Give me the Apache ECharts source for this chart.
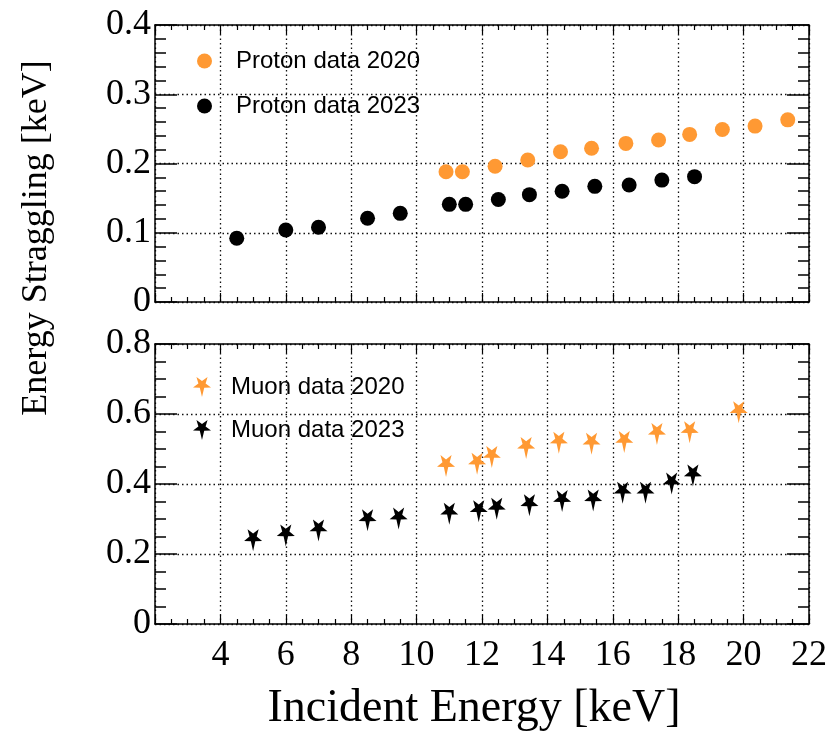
<!DOCTYPE html>
<html>
<head>
<meta charset="utf-8">
<script src="https://cdn.jsdelivr.net/npm/echarts@6/dist/echarts.min.js"></script>
<style>
  html, body { margin: 0; padding: 0; background: #fff; }
  #chart { width: 831px; height: 732px; }
</style>
</head>
<body>
<div id="chart"></div>
<script>
// 数据：横轴为入射能量 (keV)，纵轴为能量歧离 (keV)
var xTicks = [2, 4, 6, 8, 10, 12, 14, 16, 18, 20, 22];
var yTicksTop = [0, 0.1, 0.2, 0.3, 0.4];
var yTicksBottom = [0, 0.2, 0.4, 0.6, 0.8];

var protonE2020 = [10.9, 11.4, 12.4, 13.4, 14.4, 15.35, 16.4, 17.4, 18.35, 19.35, 20.35, 21.35];
var protonS2020 = [0.188, 0.188, 0.196, 0.205, 0.217, 0.222, 0.229, 0.234, 0.242, 0.249, 0.254, 0.263];
var protonE2023 = [4.5, 6.0, 7.0, 8.5, 9.5, 11.0, 11.5, 12.5, 13.45, 14.45, 15.45, 16.5, 17.5, 18.5];
var protonS2023 = [0.092, 0.104, 0.108, 0.121, 0.128, 0.141, 0.141, 0.148, 0.155, 0.160, 0.167, 0.169, 0.176, 0.181];

var muonE2020 = [10.9, 11.85, 12.3, 13.35, 14.35, 15.35, 16.35, 17.35, 18.35, 19.85];
var muonS2020 = [0.458, 0.465, 0.484, 0.510, 0.525, 0.522, 0.527, 0.550, 0.555, 0.612];
var muonE2023 = [5.0, 6.0, 7.0, 8.5, 9.45, 11.0, 11.9, 12.45, 13.45, 14.45, 15.4, 16.3, 17.0, 17.8, 18.45];
var muonS2023 = [0.246, 0.260, 0.274, 0.303, 0.308, 0.322, 0.329, 0.336, 0.346, 0.358, 0.360, 0.382, 0.382, 0.408, 0.431];

(function () {
  var myChart = echarts.init(document.getElementById('chart'));

  var orange = '#ff9933';
  var serif = 'Liberation Serif';
  // 倒置五角星，下方的角拉长
  var star = 'path://M0,13L2.35,3.24L9.51,3.09L3.8,-1.24L5.88,-8.09L0,-4L-5.88,-8.09L-3.8,-1.24L-9.51,3.09L-2.35,3.24Z';

  function pairs(xs, ys) {
    return xs.map(function (x, i) { return [x, ys[i]]; });
  }

  // 横轴：主刻度 + 次刻度，刻度朝内
  function xAxisOf(gridIndex, position, showLabel, showSplit) {
    return {
      type: 'value',
      gridIndex: gridIndex,
      position: position,
      min: xTicks[0],
      max: xTicks[xTicks.length - 1],
      interval: xTicks[1] - xTicks[0],
      axisLine: { show: true, onZero: false, lineStyle: { color: '#000', width: 1.5 } },
      axisTick: { show: true, inside: true, length: 9, lineStyle: { color: '#000', width: 1.2 } },
      minorTick: { show: true, splitNumber: 4, length: 5, lineStyle: { color: '#000', width: 1.2 } },
      axisLabel: {
        show: showLabel,
        showMinLabel: false,
        margin: 14,
        color: '#000',
        fontFamily: serif,
        fontSize: 36
      },
      splitLine: { show: showSplit, lineStyle: { color: '#111', width: 1.3, type: [1.5, 3] } }
    };
  }

  // 纵轴
  function yAxisOf(gridIndex, position, ticks, minorSplit, showLabel, showSplit) {
    return {
      type: 'value',
      gridIndex: gridIndex,
      position: position,
      min: ticks[0],
      max: ticks[ticks.length - 1],
      interval: ticks[1] - ticks[0],
      axisLine: { show: true, onZero: false, lineStyle: { color: '#000', width: 1.5 } },
      axisTick: { show: true, inside: true, length: 22, lineStyle: { color: '#000', width: 1.5 } },
      minorTick: { show: true, splitNumber: minorSplit, length: 11, lineStyle: { color: '#000', width: 1.5 } },
      axisLabel: {
        show: showLabel,
        margin: 4,
        color: '#000',
        fontFamily: serif,
        fontSize: 36,
        formatter: function (v) { return v === 0 ? '0' : v.toFixed(1); }
      },
      splitLine: { show: showSplit, lineStyle: { color: '#111', width: 1.3, type: [1.5, 3] } }
    };
  }

  var xMainBottom = xAxisOf(1, 'bottom', true, true);
  xMainBottom.name = 'Incident Energy [keV]';
  xMainBottom.nameLocation = 'middle';
  xMainBottom.nameGap = 62;
  xMainBottom.nameTextStyle = { fontFamily: serif, fontSize: 46, color: '#000', padding: [0, 16, 0, 0] };

  var option = {
    animation: false,
    backgroundColor: '#fff',
    grid: [
      { left: 155, right: 22, top: 25, height: 277, outerBoundsMode: 'none' },
      { left: 155, right: 22, top: 344, height: 280, outerBoundsMode: 'none' }
    ],
    xAxis: [
      xAxisOf(0, 'bottom', false, true),
      xAxisOf(0, 'top', false, false),
      xMainBottom,
      xAxisOf(1, 'top', false, false)
    ],
    yAxis: [
      yAxisOf(0, 'left', yTicksTop, 5, true, true),
      yAxisOf(0, 'right', yTicksTop, 5, false, false),
      yAxisOf(1, 'left', yTicksBottom, 4, true, true),
      yAxisOf(1, 'right', yTicksBottom, 4, false, false)
    ],
    legend: [
      {
        data: ['Proton data 2020', 'Proton data 2023'],
        orient: 'vertical',
        left: 192,
        top: 44,
        itemGap: 21,
        itemWidth: 15,
        itemHeight: 15,
        textStyle: { fontFamily: 'Liberation Sans', fontSize: 24, color: '#000', padding: [0, 0, 0, 19] }
      },
      {
        data: ['Muon data 2020', 'Muon data 2023'],
        orient: 'vertical',
        left: 188,
        top: 370,
        itemGap: 19,
        itemWidth: 18,
        itemHeight: 22,
        textStyle: { fontFamily: 'Liberation Sans', fontSize: 24, color: '#000', padding: [0, 0, 0, 15] }
      }
    ],
    graphic: [
      {
        type: 'text',
        x: 37,
        y: 238,
        rotation: Math.PI / 2,
        style: {
          text: 'Energy Straggling [keV]',
          fontFamily: serif,
          fontSize: 36,
          fill: '#000',
          align: 'center',
          verticalAlign: 'middle'
        }
      }
    ],
    series: [
      {
        name: 'Proton data 2020',
        type: 'scatter',
        xAxisIndex: 0,
        yAxisIndex: 0,
        symbol: 'circle',
        symbolSize: 15,
        itemStyle: { color: orange, opacity: 1 },
        data: pairs(protonE2020, protonS2020)
      },
      {
        name: 'Proton data 2023',
        type: 'scatter',
        xAxisIndex: 0,
        yAxisIndex: 0,
        symbol: 'circle',
        symbolSize: 15,
        itemStyle: { color: '#000', opacity: 1 },
        data: pairs(protonE2023, protonS2023)
      },
      {
        name: 'Muon data 2020',
        type: 'scatter',
        xAxisIndex: 2,
        yAxisIndex: 2,
        symbol: star,
        symbolSize: [18, 22],
        symbolOffset: [0, '11%'],
        itemStyle: { color: orange, opacity: 1 },
        data: pairs(muonE2020, muonS2020)
      },
      {
        name: 'Muon data 2023',
        type: 'scatter',
        xAxisIndex: 2,
        yAxisIndex: 2,
        symbol: star,
        symbolSize: [18, 22],
        symbolOffset: [0, '11%'],
        itemStyle: { color: '#000', opacity: 1 },
        data: pairs(muonE2023, muonS2023)
      }
    ]
  };

  myChart.setOption(option);
  window.addEventListener('resize', function () {
    myChart.resize();
  });
})();
</script>
</body>
</html>
